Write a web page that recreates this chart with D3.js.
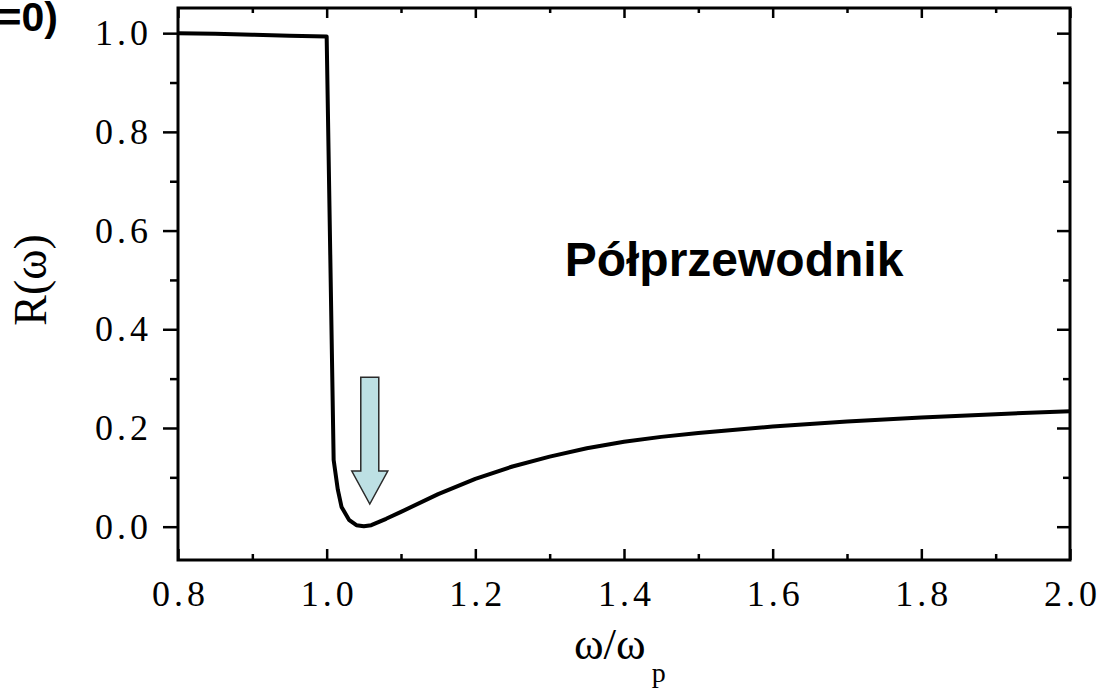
<!DOCTYPE html>
<html>
<head>
<meta charset="utf-8">
<script src="https://cdn.jsdelivr.net/npm/d3@7"></script>
<style>
  body { margin: 0; background: #fff; }
  svg { display: block; }
  .tick-label text { font-family: "Liberation Serif", "Times New Roman", serif; font-size: 36px; letter-spacing: 4px; fill: #000; }
</style>
</head>
<body>
<div id="chart"></div>
<script>
// dane
const omega = [0.80, 0.85, 0.90, 0.95, 1.00, 1.0094, 1.015, 1.02, 1.03, 1.04, 1.05, 1.06, 1.08, 1.10, 1.15, 1.20, 1.25, 1.30, 1.35, 1.40, 1.45, 1.50, 1.60, 1.70, 1.80, 1.90, 2.00];
const refl = [1.000, 0.999, 0.997, 0.995, 0.993, 0.135, 0.075, 0.040, 0.014, 0.003, 0.001, 0.003, 0.016, 0.030, 0.066, 0.097, 0.122, 0.142, 0.159, 0.172, 0.182, 0.190, 0.203, 0.213, 0.221, 0.228, 0.234];
const xMajor = [0.8, 1.0, 1.2, 1.4, 1.6, 1.8, 2.0];
const xMinor = [0.9, 1.1, 1.3, 1.5, 1.7, 1.9];
const yMajor = [0.0, 0.2, 0.4, 0.6, 0.8, 1.0];
const yMinor = [0.1, 0.3, 0.5, 0.7, 0.9];
const arrowTop = 0.303, arrowTip = 0.046, arrowAt = 1.058;

const width = 1107;
const height = 690;
const margin = { top: 8, bottom: 130, left: 178, right: 37 };
const w = width - margin.left - margin.right;
const h = height - margin.top - margin.bottom;

const svg = d3.select("div#chart").append("svg")
  .attr("width", width)
  .attr("height", height);

const g = svg.append("g").attr("transform", `translate(${margin.left}, ${margin.top})`);

const x = d3.scaleLinear().domain([0.8, 2.0]).range([0, w]);
const y = d3.scaleLinear().domain([-0.0675, 1.051]).range([h, 0]);

const fmt = d3.format(".1f");

function styleAxis(sel) {
  sel.select(".domain").remove();
  sel.selectAll(".tick line").attr("stroke", "#000").attr("stroke-width", 2.5);
}

// osie - lewa (na zewnatrz), z etykietami
g.append("g").attr("class", "tick-label")
  .call(d3.axisLeft(y).tickValues(yMajor).tickSize(15).tickPadding(11).tickFormat(fmt))
  .call(styleAxis)
  .selectAll("text").attr("font-family", null).attr("font-size", null);
g.append("g")
  .call(d3.axisLeft(y).tickValues(yMinor).tickSize(8).tickFormat(""))
  .call(styleAxis);

// prawa (do srodka)
g.append("g").attr("transform", `translate(${w},0)`)
  .call(d3.axisRight(y).tickValues(yMajor).tickSize(-13).tickFormat(""))
  .call(styleAxis);
g.append("g").attr("transform", `translate(${w},0)`)
  .call(d3.axisRight(y).tickValues(yMinor).tickSize(-7).tickFormat(""))
  .call(styleAxis);

// dolna (do srodka), z etykietami
g.append("g").attr("class", "tick-label").attr("transform", `translate(0,${h})`)
  .call(d3.axisBottom(x).tickValues(xMajor).tickSize(-11).tickPadding(20).tickFormat(fmt))
  .call(styleAxis)
  .selectAll("text").attr("font-family", null).attr("font-size", null).attr("dx", "2px");
g.append("g").attr("transform", `translate(0,${h})`)
  .call(d3.axisBottom(x).tickValues(xMinor).tickSize(-6).tickFormat(""))
  .call(styleAxis);

// gorna (do srodka)
g.append("g")
  .call(d3.axisTop(x).tickValues(xMajor).tickSize(-10).tickFormat(""))
  .call(styleAxis);
g.append("g")
  .call(d3.axisTop(x).tickValues(xMinor).tickSize(-5).tickFormat(""))
  .call(styleAxis);

// ramka
g.append("rect")
  .attr("width", w).attr("height", h)
  .attr("fill", "none").attr("stroke", "#000").attr("stroke-width", 3);

// krzywa R(w)
const line = d3.line()
  .x((d, i) => x(omega[i]))
  .y((d) => y(d));

g.append("path")
  .datum(refl)
  .attr("fill", "none")
  .attr("stroke", "#000")
  .attr("stroke-width", 4)
  .attr("stroke-linejoin", "round")
  .attr("d", line);

// strzalka
const ax = x(arrowAt), aTop = y(arrowTop), aTip = y(arrowTip);
const shaftW = 9, headW = 18, headH = 33;
g.append("path")
  .attr("d", `M${ax - shaftW},${aTop} L${ax + shaftW},${aTop} L${ax + shaftW},${aTip - headH} L${ax + headW},${aTip - headH} L${ax},${aTip} L${ax - headW},${aTip - headH} L${ax - shaftW},${aTip - headH} Z`)
  .attr("fill", "#bde0e4")
  .attr("stroke", "#2a2a2a")
  .attr("stroke-width", 1.5);

// napis
g.append("text")
  .attr("x", x(1.548))
  .attr("y", y(0.508))
  .attr("text-anchor", "middle")
  .attr("font-family", "Liberation Sans, Arial, sans-serif")
  .attr("font-weight", "bold")
  .attr("font-size", 48)
  .text("Półprzewodnik");

// tytuly osi
svg.append("text")
  .attr("transform", `translate(46, ${margin.top + y(0.5)}) rotate(-90)`)
  .attr("text-anchor", "middle")
  .attr("font-family", "Liberation Serif, Times New Roman, serif")
  .attr("font-size", 46)
  .text("R(ω)");

const xt = svg.append("text")
  .attr("x", 574)
  .attr("y", 659)
  .attr("font-family", "Liberation Serif, Times New Roman, serif")
  .attr("font-size", 45);
xt.append("tspan").text("ω/ω");
xt.append("tspan").attr("font-size", 28).attr("dy", 23).attr("dx", 6).text("p");

// ucięty napis w lewym gornym rogu
svg.append("text")
  .attr("x", 58)
  .attr("y", 31)
  .attr("text-anchor", "end")
  .attr("font-family", "Liberation Sans, Arial, sans-serif")
  .attr("font-weight", "bold")
  .attr("font-size", 41)
  .text("R(ω=0)");
</script>
</body>
</html>
